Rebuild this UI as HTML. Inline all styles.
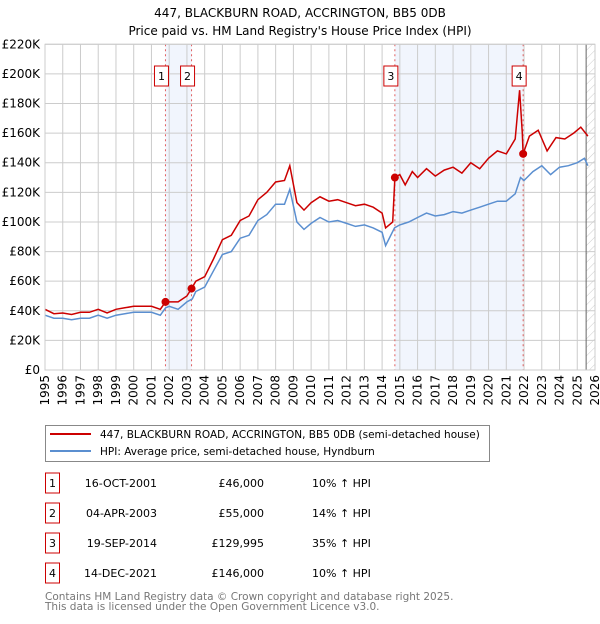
<!DOCTYPE html>
<html><head><meta charset="utf-8"><style>
body{margin:0;background:#fff;font-family:"DejaVu Sans","Liberation Sans",sans-serif;}
svg text{font-family:"DejaVu Sans","Liberation Sans",sans-serif;}
</style></head><body>
<svg id="chart" width="600" height="620" xmlns="http://www.w3.org/2000/svg">
<defs><pattern id="hatch" width="6" height="6" patternUnits="userSpaceOnUse" patternTransform="rotate(45)"><line x1="0" y1="0" x2="0" y2="6" stroke="#ccc" stroke-width="1"/></pattern></defs>
<text x="300" y="17" text-anchor="middle" font-size="12">447, BLACKBURN ROAD, ACCRINGTON, BB5 0DB</text>
<text x="300" y="35" text-anchor="middle" font-size="12">Price paid vs. HM Land Registry's House Price Index (HPI)</text>
<g id="plot"></g>
<g>
<rect x="45.5" y="425.5" width="444" height="36" fill="#fff" stroke="#888"/>
<line x1="50" y1="434" x2="91" y2="434" stroke="#cc0000" stroke-width="2"/>
<text x="100" y="438" font-size="10.5">447, BLACKBURN ROAD, ACCRINGTON, BB5 0DB (semi-detached house)</text>
<line x1="50" y1="451" x2="91" y2="451" stroke="#5b8fd0" stroke-width="2"/>
<text x="100" y="455" font-size="10.5">HPI: Average price, semi-detached house, Hyndburn</text>
</g>
<g id="table" font-size="11"></g>
<text x="45" y="600" font-size="10.5" fill="#777">Contains HM Land Registry data © Crown copyright and database right 2025.</text>
<text x="45" y="610" font-size="10.5" fill="#777">This data is licensed under the Open Government Licence v3.0.</text>
</svg>
<script>
const hpiX=[1995,1995.5,1996,1996.5,1997,1997.5,1998,1998.5,1999,1999.5,2000,2000.5,2001,2001.5,2001.8,2002,2002.5,2003,2003.3,2003.5,2004,2004.5,2005,2005.5,2006,2006.5,2007,2007.5,2008,2008.5,2008.8,2009.2,2009.6,2010,2010.5,2011,2011.5,2012,2012.5,2013,2013.5,2014,2014.2,2014.7,2015,2015.5,2016,2016.5,2017,2017.5,2018,2018.5,2019,2019.5,2020,2020.5,2021,2021.5,2021.8,2022,2022.5,2023,2023.5,2024,2024.5,2025,2025.4,2025.6];
const hpiY=[37,35,35,34,35,35,37,35,37,38,39,39,39,37,42,43,41,46,48,53,56,67,78,80,89,91,101,105,112,112,122,100,95,99,103,100,101,99,97,98,96,93,84,96,98,100,103,106,104,105,107,106,108,110,112,114,114,119,130,128,134,138,132,137,138,140,143,138];
const redX=[1995,1995.5,1996,1996.5,1997,1997.5,1998,1998.5,1999,1999.5,2000,2000.5,2001,2001.5,2001.79,2002,2002.5,2003,2003.26,2003.5,2004,2004.5,2005,2005.5,2006,2006.5,2007,2007.5,2008,2008.5,2008.8,2009.2,2009.6,2010,2010.5,2011,2011.5,2012,2012.5,2013,2013.5,2014,2014.2,2014.6,2014.72,2015,2015.3,2015.7,2016,2016.5,2017,2017.5,2018,2018.5,2019,2019.5,2020,2020.5,2021,2021.5,2021.75,2021.9,2021.95,2022.3,2022.8,2023.3,2023.8,2024.3,2024.8,2025.2,2025.6];
const redY=[41,38,38.5,37.5,39,39,41,38.5,41,42,43,43,43,41,46,46,46,50,55,60,63,75,88,91,101,104,115,120,127,128,138,113,108,113,117,114,115,113,111,112,110,106,96,100,130,132,125,134,130,136,131,135,137,133,140,136,143,148,146,156,189,160,146,158,162,148,157,156,160,164,158];
const saleNum=["1","2","3","4"];
const saleX=[2001.79,2003.26,2014.72,2021.95];
const saleY=[46,55,129.995,146];
const saleDate=["16-OCT-2001","04-APR-2003","19-SEP-2014","14-DEC-2021"];
const salePrice=["£46,000","£55,000","£129,995","£146,000"];
const saleHpi=["10% ↑ HPI","14% ↑ HPI","35% ↑ HPI","10% ↑ HPI"];
const yTicks=[0,20,40,60,80,100,120,140,160,180,200,220];
const yLabels=["£0","£20K","£40K","£60K","£80K","£100K","£120K","£140K","£160K","£180K","£200K","£220K"];
const xYears=[1995,1996,1997,1998,1999,2000,2001,2002,2003,2004,2005,2006,2007,2008,2009,2010,2011,2012,2013,2014,2015,2016,2017,2018,2019,2020,2021,2022,2023,2024,2025,2026];
const L=45,R=595,T=44.3,B=370;
const sx=v=>L+(v-1995)*(R-L)/31;
const sy=v=>B-v*(B-T)/220;
const NS="http://www.w3.org/2000/svg";
const g=document.getElementById('plot');
function mk(tag,attrs,parent){const e=document.createElementNS(NS,tag);for(const k in attrs)e.setAttribute(k,attrs[k]);(parent||g).appendChild(e);return e;}
let e;
e=mk('rect',{x:sx(saleX[0]),y:T,width:sx(saleX[1])-sx(saleX[0]),height:B-T,fill:'#eef3fc',opacity:0.8});


e=mk('rect',{x:sx(saleX[2]),y:T,width:sx(saleX[3])-sx(saleX[2]),height:B-T,fill:'#eef3fc',opacity:0.8});


e=mk('rect',{x:sx(2025.5),y:T,width:R-sx(2025.5),height:B-T,fill:'url(#hatch)'});


yTicks.forEach((t,i)=>{
 e=mk('line',{x1:L,x2:R,y1:sy(t),y2:sy(t),stroke:'#ccc','stroke-width':1});
 
 
 e=mk('text',{x:L-5,y:sy(t)+4,'text-anchor':'end','font-size':12});
 e.textContent=yLabels[i];
 
 
});
xYears.forEach(y=>{
 e=mk('line',{x1:sx(y),x2:sx(y),y1:T,y2:B,stroke:'#ccc','stroke-width':1});
 
 
 e=mk('text',{x:0,y:0,'text-anchor':'end','font-size':12,transform:`translate(${sx(y)+4},${B+5}) rotate(-90)`});
 e.textContent=y;
 
 
});
e=mk('line',{x1:sx(2025.5),x2:sx(2025.5),y1:T,y2:B,stroke:'#666','stroke-width':1});


saleX.forEach((x,i)=>{
 e=mk('line',{x1:sx(x),x2:sx(x),y1:T,y2:B,stroke:'#e06060','stroke-width':1,'stroke-dasharray':'2,3'});
 
 
});
const path=(xs,ys)=>xs.map((x,i)=>(i?'L':'M')+sx(x).toFixed(1)+','+sy(ys[i]).toFixed(1)).join('');
e=mk('path',{d:path(hpiX,hpiY),fill:'none',stroke:'#5b8fd0','stroke-width':1.5});


e=mk('path',{d:path(redX,redY),fill:'none',stroke:'#cc0000','stroke-width':1.5});


saleX.forEach((x,i)=>{
 e=mk('circle',{cx:sx(x),cy:sy(saleY[i]),r:4,fill:'#cc0000'});
 
 
 e=mk('rect',{x:sx(x)-11,y:66,width:14,height:20,fill:'#fff',stroke:'#cc0000'});
 
 
 e=mk('text',{x:sx(x)-4,y:80,'text-anchor':'middle','font-size':11});
 e.textContent=saleNum[i];
 
 
});
e=mk('rect',{x:L,y:T,width:R-L,height:B-T,fill:'none',stroke:'#ccc'});


const tb=document.getElementById('table');
saleNum.forEach((n,i)=>{
 const cy=483+i*30;
 e=mk('rect',{x:45.5,y:cy-10,width:14,height:20,fill:'#fff',stroke:'#cc0000'},tb);
 
 
 e=mk('text',{x:52.5,y:cy+4,'text-anchor':'middle'},tb);e.textContent=n;
 
 
 e=mk('text',{x:157,y:cy+4,'text-anchor':'end'},tb);e.textContent=saleDate[i];
 
 
 e=mk('text',{x:264,y:cy+4,'text-anchor':'end'},tb);e.textContent=salePrice[i];
 
 
 e=mk('text',{x:312,y:cy+4},tb);e.textContent=saleHpi[i];
 
 
});
</script>
</body></html>
